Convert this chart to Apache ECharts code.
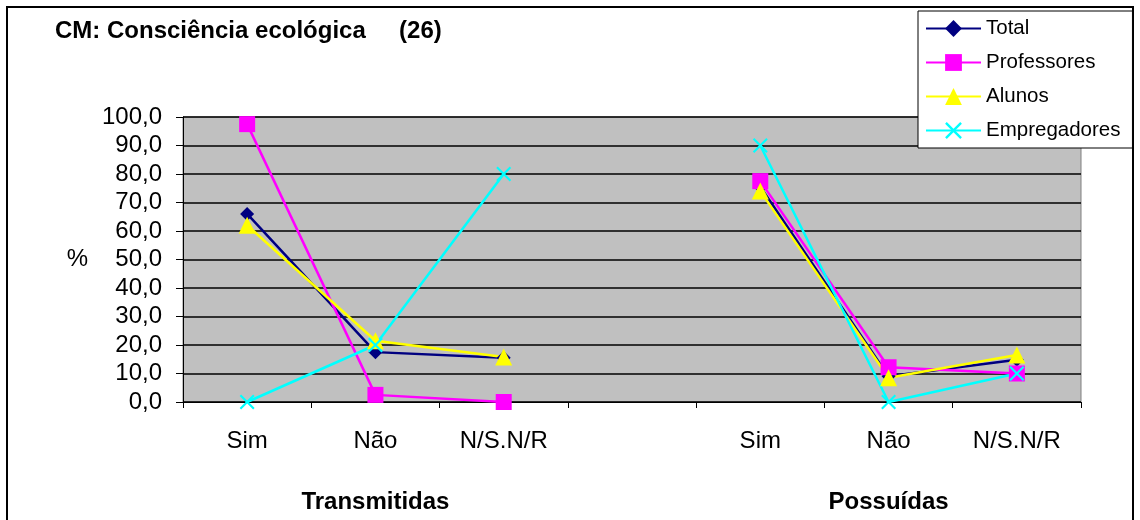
<!DOCTYPE html>
<html>
<head>
<meta charset="utf-8">
<script src="https://cdn.jsdelivr.net/npm/echarts@6/dist/echarts.min.js"></script>
<style>
  html, body { margin: 0; padding: 0; background: #fff; }
  #main { width: 1140px; height: 520px; }
</style>
</head>
<body>
<div id="main"></div>
<script>
// categories (empty slot separates the two groups)
var categories = ['Sim', 'Não', 'N/S.N/R', '', 'Sim', 'Não', 'N/S.N/R'];
var groupLabels = ['', 'Transmitidas', '', '', '', 'Possuídas', ''];
var seriesNames = ['Total', 'Professores', 'Alunos', 'Empregadores'];

var total        = [66, 17.5, 15.5, '-', 75.5, 9, 14.8];
var professores  = [97.5, 2.5, 0, '-', 77.5, 12.2, 10];
var alunos       = [62, 21.5, 15.8, '-', 74, 8.5, 16.5];
var empregadores = [0, 20, 80, '-', 90, 0, 10];

var yTicks = [0, 100, 10];

var chart = echarts.init(document.getElementById('main'));
var font = 'Liberation Sans, Arial, sans-serif';
var crossPath = 'path://M0,1L1,0L5,4L9,0L10,1L6,5L10,9L9,10L5,6L1,10L0,9L4,5Z';

function mk(name, data, color, symbol, size) {
    return {
        name: name,
        type: 'line',
        data: data,
        symbol: symbol,
        symbolSize: size,
        showAllSymbol: true,
        lineStyle: { color: color, width: 2.5 },
        itemStyle: { color: color, borderWidth: 0 },
        emphasis: { disabled: true },
        animation: false
    };
}

var option = {
    animation: false,
    title: {
        text: 'CM: Consciência ecológica     (26)',
        left: 55,
        top: 19,
        padding: 0,
        textStyle: { fontFamily: font, fontWeight: 'bold', fontSize: 24, color: '#000' }
    },
    legend: {
        data: seriesNames,
        orient: 'vertical',
        left: 918,
        top: 11,
        padding: [7, 12, 7, 7],
        itemWidth: 55,
        itemHeight: 21,
        itemGap: 13,
        backgroundColor: '#fff',
        borderColor: '#000',
        borderWidth: 1,
        borderRadius: 0,
        textStyle: { fontFamily: font, fontSize: 20.5, lineHeight: 21, color: '#000' }
    },
    grid: {
        left: 183,
        right: 59,
        top: 117,
        bottom: 118,
        show: true,
        backgroundColor: '#c0c0c0',
        borderColor: '#808080',
        borderWidth: 1
    },
    xAxis: [{
        type: 'category',
        data: categories,
        boundaryGap: true,
        axisLine: { lineStyle: { color: '#000', width: 1 } },
        axisTick: { show: true, interval: 0, length: 6, lineStyle: { color: '#000' } },
        axisLabel: { interval: 0, margin: 27, fontFamily: font, fontSize: 24, color: '#000' }
    }, {
        type: 'category',
        data: groupLabels,
        position: 'bottom',
        offset: 80,
        axisLine: { show: false },
        axisTick: { show: false },
        axisLabel: { interval: 0, fontFamily: font, fontSize: 24, fontWeight: 'bold', color: '#000' }
    }],
    yAxis: {
        type: 'value',
        min: yTicks[0],
        max: yTicks[1],
        interval: yTicks[2],
        name: '%',
        nameLocation: 'middle',
        nameGap: 95,
        nameRotate: 0,
        nameTextStyle: { fontFamily: font, fontSize: 24, color: '#000' },
        axisLine: { show: true, lineStyle: { color: '#000' } },
        axisTick: { show: true, length: 7, lineStyle: { color: '#000' } },
        axisLabel: {
            margin: 21,
            fontFamily: font, fontSize: 24, color: '#000',
            formatter: function (v) { return v.toFixed(1).replace('.', ','); }
        },
        splitLine: { show: true, lineStyle: { color: '#000', width: 1.5 } }
    },
    graphic: [{
        type: 'rect',
        shape: { x: 7, y: 7, width: 1126, height: 530 },
        style: { fill: 'none', stroke: '#000', lineWidth: 2 },
        silent: true,
        z: -10
    }],
    series: [
        mk('Total', total, '#000080', 'diamond', 14),
        mk('Professores', professores, '#ff00ff', 'rect', 16),
        mk('Alunos', alunos, '#ffff00', 'triangle', 17),
        mk('Empregadores', empregadores, '#00ffff', crossPath, 15)
    ]
};
chart.setOption(option);
</script>
</body>
</html>
